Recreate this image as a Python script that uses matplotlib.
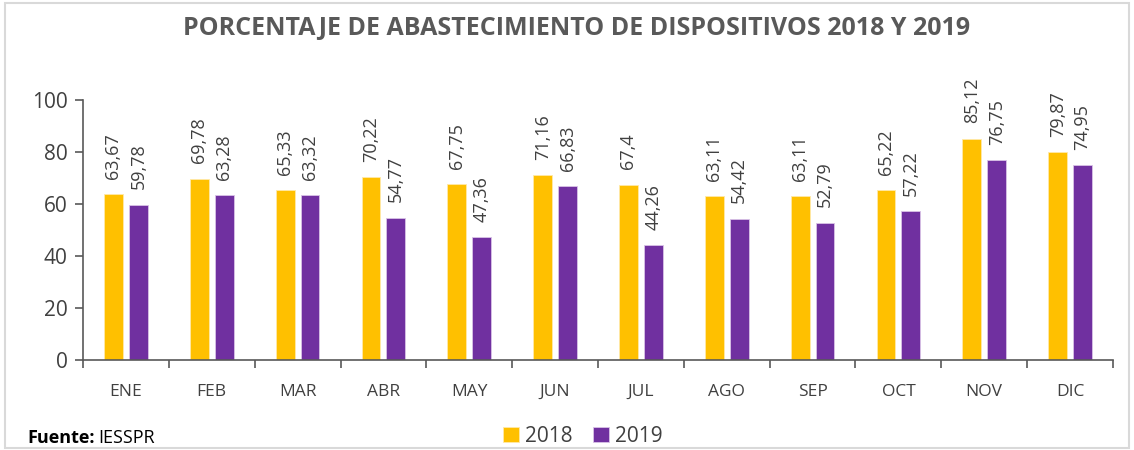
import numpy as np
import matplotlib
matplotlib.use("Agg")
from matplotlib import pyplot as plt
from matplotlib.patches import Rectangle

meses = ["ENE", "FEB", "MAR", "ABR", "MAY", "JUN", "JUL", "AGO", "SEP", "OCT", "NOV", "DIC"]
v2018 = [63.67, 69.78, 65.33, 70.22, 67.75, 71.16, 67.4, 63.11, 63.11, 65.22, 85.12, 79.87]
v2019 = [59.78, 63.28, 63.32, 54.77, 47.36, 66.83, 44.26, 54.42, 52.79, 57.22, 76.75, 74.95]

plt.rcParams['font.family'] = ['Open Sans', 'DejaVu Sans']
gris = "#404040"

fig = plt.figure(figsize=(11.34, 4.5), dpi=100)
ax = fig.add_axes([83/1134, 90/450, 1030/1134, 260/450])

x = np.arange(len(meses))
w = 0.22
b1 = ax.bar(x - 0.145, v2018, w, color="#FFC000", edgecolor="#FFE9A8", linewidth=0.6, label="2018")
b2 = ax.bar(x + 0.145, v2019, w, color="#7030A0", edgecolor="#D9C3E6", linewidth=0.6, label="2019")

def fmt(v):
    return ("%g" % v).replace(".", ",")

for bars, vals in ((b1, v2018), (b2, v2019)):
    for r, v in zip(bars, vals):
        ax.annotate(fmt(v), (r.get_x() + r.get_width() / 2, v), xytext=(0, 11),
                    textcoords="offset points", rotation=90, ha="center", va="bottom",
                    fontsize=13, color=gris)

ax.set_xlim(-0.5, len(meses) - 0.5)
ax.set_ylim(0, 100)
ax.set_yticks([0, 20, 40, 60, 80, 100])
ax.set_xticks(x)
ax.set_xticklabels(meses)
ax.set_xticks(np.arange(-0.5, len(meses)), minor=True)
ax.tick_params(axis="x", which="major", length=0, pad=17, labelsize=12.5, labelcolor=gris)
ax.tick_params(axis="x", which="minor", length=6, width=1.2, color="#595959", direction="out")
ax.tick_params(axis="y", length=6, width=1.2, color="#595959", labelsize=15, labelcolor=gris, pad=5)
for s in ("top", "right"):
    ax.spines[s].set_visible(False)
for s in ("left", "bottom"):
    ax.spines[s].set_color("#595959")
    ax.spines[s].set_linewidth(1.2)

fig.text(577/1134, 1 - 28/450, "PORCENTAJE DE ABASTECIMIENTO DE DISPOSITIVOS 2018 Y 2019",
         ha="center", va="center", fontsize=18, fontweight="bold", color="#595959")
t = fig.text(27/1134, 1 - 438/450, "Fuente:", ha="left", va="center", fontsize=13,
             fontweight="bold", color="#000000")
fig.canvas.draw()
bb = t.get_window_extent()
fig.text((bb.x1 + 4) / 1134, 1 - 438/450, "IESSPR", ha="left", va="center", fontsize=13, color="#000000")

fig.legend(handles=[b1, b2], loc="center", bbox_to_anchor=(583/1134, 1 - 436/450), ncol=2,
           frameon=False, fontsize=15, handlelength=0.75, handleheight=0.75, handletextpad=0.3,
           columnspacing=1.0, labelcolor=gris)

fig.add_artist(Rectangle((0.004, 0.004), 0.992, 0.99, transform=fig.transFigure,
                         fill=False, edgecolor="#D9D9D9", linewidth=1.5))

fig.savefig("out.png", dpi=100)
